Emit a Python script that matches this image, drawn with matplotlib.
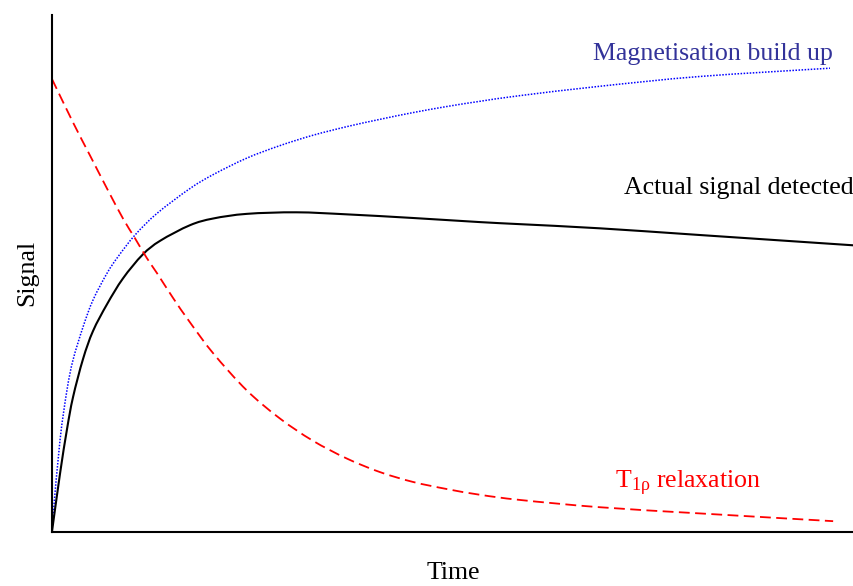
import matplotlib.pyplot as plt
from matplotlib.path import Path
from matplotlib.patches import PathPatch

# curve values (time 0-100, signal 0-100)
build_t = [0, 0.12, 1.0, 1.87, 2.62, 3.87, 5.11, 6.86, 8.23, 10.35, 13.1, 17.2, 20.1,
           24.3, 28.4, 32.5, 36.8, 40.9, 45.0, 49.3, 53.4, 58.4, 68.3, 80.8, 97.0]
build_s = [0, 2.8, 17.7, 27.4, 33.2, 39.6, 44.8, 50.0, 53.2, 57.4, 61.6, 66.4, 69.1,
           72.3, 74.7, 76.7, 78.4, 79.8, 81.1, 82.3, 83.3, 84.4, 86.2, 88.1, 89.7]

actual_t = [0, 1.0, 1.87, 2.62, 3.87, 5.11, 6.86, 8.85, 11.3, 13.5, 17.2, 20.1, 24.3,
            30.5, 36.8, 45.0, 53.4, 58.4, 68.3, 80.8, 100]
actual_s = [0, 11.2, 19.8, 26.0, 33.4, 38.8, 44.0, 49.0, 53.6, 56.3, 59.3, 60.6, 61.5,
            61.8, 61.4, 60.7, 59.9, 59.5, 58.7, 57.4, 55.4]

relax_t = [0, 2.62, 4.74, 6.86, 8.85, 10.3, 11.8, 13.1, 15.1, 17.2, 20.1, 24.3, 28.4,
           32.5, 36.8, 40.9, 45.0, 49.3, 53.4, 58.4, 68.3, 80.8, 97.4]
relax_s = [87.6, 79.2, 72.8, 66.4, 60.6, 56.9, 53.0, 50.0, 45.2, 40.5, 34.5, 27.3, 21.9,
           17.6, 14.1, 11.5, 9.6, 8.2, 7.1, 6.1, 4.7, 3.5, 2.0]

plt.rcParams['font.family'] = ['Liberation Serif', 'DejaVu Serif']
plt.rcParams['mathtext.fontset'] = 'custom'
plt.rcParams['mathtext.rm'] = 'Liberation Serif'
plt.rcParams['mathtext.it'] = 'Liberation Serif'


def smooth_curve(ax, xs, ys, **kw):
    # catmull-rom style cubic bezier that passes through the read points
    pts = list(zip(xs, ys))
    n = len(pts)
    verts = [pts[0]]
    codes = [Path.MOVETO]
    for i in range(n - 1):
        p0 = pts[max(i - 1, 0)]
        p1 = pts[i]
        p2 = pts[i + 1]
        p3 = pts[min(i + 2, n - 1)]
        c1 = (p1[0] + (p2[0] - p0[0]) / 6, p1[1] + (p2[1] - p0[1]) / 6)
        c2 = (p2[0] - (p3[0] - p1[0]) / 6, p2[1] - (p3[1] - p1[1]) / 6)
        verts += [c1, c2, p2]
        codes += [Path.CURVE4] * 3
    ax.add_patch(PathPatch(Path(verts, codes), fill=False, **kw))


fig = plt.figure(figsize=(8.54, 5.86), dpi=100)
ax = fig.add_axes([52/854, 54.5/586, 802/854, 516.5/586])

smooth_curve(ax, build_t, build_s, ec='blue', ls=(0, (1, 1)), lw=1.1)
smooth_curve(ax, actual_t, actual_s, ec='black', lw=1.5)
smooth_curve(ax, relax_t, relax_s, ec='red', ls=(0, (6, 3)), lw=1.3)

ax.set_xlim(0, 100)
ax.set_ylim(0, 100)
ax.spines['top'].set_visible(False)
ax.spines['right'].set_visible(False)
ax.spines['left'].set_linewidth(1.5)
ax.spines['bottom'].set_linewidth(1.5)
ax.set_xticks([])
ax.set_yticks([])

ax.text(97.4, 91.3, 'Magnetisation build up', color='#33339a', fontsize=18.6, ha='right', va='baseline')
ax.text(100, 65.3, 'Actual signal detected', color='black', fontsize=18.6, ha='right', va='baseline',
        clip_on=False)
ax.text(70.2, 8.4, r'T$_{\mathrm{1\rho}}$ relaxation', color='red', fontsize=18.6, ha='left', va='baseline')

ax.set_xlabel('Time', fontsize=18.6, labelpad=22)
ax.set_ylabel('Signal', fontsize=18.6, labelpad=10)

fig.savefig('out.png')
